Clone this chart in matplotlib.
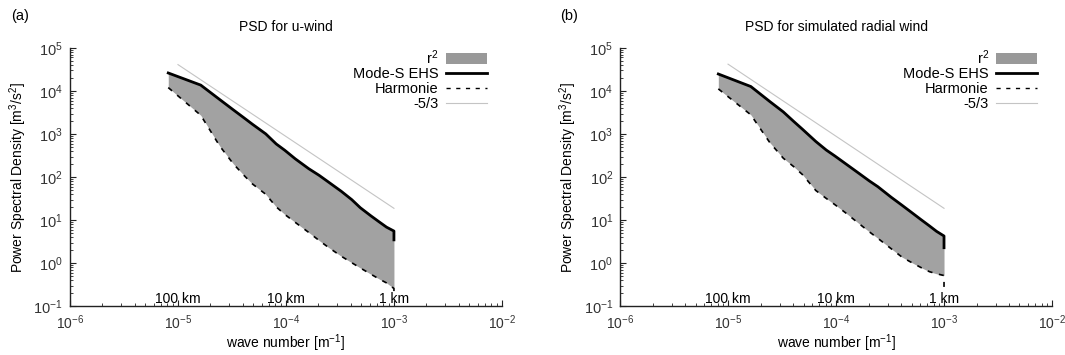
import matplotlib
matplotlib.use("Agg")
import matplotlib.pyplot as plt
import matplotlib.patches as patches
from matplotlib.lines import Line2D
from matplotlib.ticker import NullFormatter

plt.rcParams['font.family'] = ['Liberation Sans', 'DejaVu Sans']
plt.rcParams['mathtext.default'] = 'regular'
plt.rcParams['font.size'] = 10

# wave numbers (k = n * k0), last point repeated for the drop at 1 km
wave_number = [8.13e-6, 1.626e-5, 2.44e-5, 3.25e-5, 4.07e-5, 4.88e-5, 6.5e-5,
               8.13e-5, 9.76e-5, 1.22e-4, 1.626e-4, 2.03e-4, 2.44e-4, 3.25e-4,
               4.07e-4, 4.88e-4, 6.1e-4, 7.32e-4, 8.54e-4, 1.0e-3, 1.0e-3]

# panel (a): u-wind
modes_u = [2.62e4, 1.37e4, 6310, 3660, 2400, 1700, 1010, 589, 420, 266, 157,
           110, 79, 47, 30, 19.5, 12.7, 9.1, 6.9, 5.6, 3.5]
harmonie_u = [1.2e4, 2730, 525, 205, 111, 70, 40, 20.4, 13.6, 8.9, 5.2,
              3.38, 2.4, 1.46, 1.03, 0.78, 0.56, 0.43, 0.35, 0.26, 0.2]

# panel (b): simulated radial wind
modes_r = [2.48e4, 1.27e4, 5680, 3270, 1950, 1300, 673, 425, 310, 207, 123,
           82, 60, 34, 22.4, 15.9, 10.4, 7.4, 5.5, 4.3, 2.3]
harmonie_r = [1.12e4, 2800, 631, 275, 174, 115, 49, 32, 23, 15, 8.4,
              5.4, 3.8, 2.17, 1.4, 1.08, 0.80, 0.64, 0.57, 0.52, 0.23]

# -5/3 reference line end points
slope_k = [1e-5, 1e-3]
slope_u = [4.1e4, 18.9]
slope_r = [4.2e4, 18.9]

scale_k = [1e-5, 1e-4, 1e-3]
scale_labels = ['100 km', '10 km', '1 km']

FILL = '#a2a2a2'
REF = '#c4c4c4'


def draw_panel(ax, title, modes, harmonie, slope_vals):
    ax.fill_between(wave_number, harmonie, modes, color=FILL, linewidth=0)
    ax.plot(wave_number, modes, color='black', lw=2.0)
    ax.plot(wave_number, harmonie, color='black', lw=1.2, dashes=(3, 4))
    ax.plot(slope_k, slope_vals, color=REF, lw=0.8)

    ax.set_xscale('log')
    ax.set_yscale('log')
    ax.set_xlim(1e-6, 1e-2)
    ax.set_ylim(1e-1, 1e5)
    ax.xaxis.set_minor_formatter(NullFormatter())
    ax.yaxis.set_minor_formatter(NullFormatter())
    ax.set_title(title, fontsize=10, pad=12)
    ax.set_xlabel('wave number [m$^{-1}$]', labelpad=0, fontsize=10)
    ax.set_ylabel('Power Spectral Density [m$^3$/s$^2$]', labelpad=3)

    for s in ['top', 'right']:
        ax.spines[s].set_visible(False)
    for s in ['left', 'bottom']:
        ax.spines[s].set_linewidth(1.0)
        ax.spines[s].set_color('#222222')
    ax.tick_params(which='major', direction='in', length=4, width=0.8,
                   labelsize=10.5, colors='#222222', labelcolor='#333333')
    ax.tick_params(which='minor', direction='in', length=2, width=0.6,
                   colors='#222222', labelbottom=False, labelleft=False)
    ax.tick_params(axis='x', which='major', pad=5, labelsize=10)
    ax.tick_params(axis='y', which='major', pad=5)

    for k, lab in zip(scale_k, scale_labels):
        ax.text(k, 0.1, lab, ha='center', va='bottom', fontsize=10)

    handles = [
        patches.Patch(facecolor='#999999', edgecolor='none', label='r$^2$'),
        Line2D([], [], color='black', lw=2.0, label='Mode-S EHS'),
        Line2D([], [], color='black', lw=1.0, dashes=(3, 4), label='Harmonie'),
        Line2D([], [], color=REF, lw=0.8, label='-5/3'),
    ]
    ax.legend(handles=handles, loc='upper right', bbox_to_anchor=(0.965, 1.0),
              frameon=False, markerfirst=False, handlelength=2.8,
              handletextpad=0.5, labelspacing=0.05, borderaxespad=0,
              borderpad=0, fontsize=10.5)


fig = plt.figure(figsize=(10.65, 3.55), dpi=100)
ax1 = fig.add_axes([0.0657, 0.137, 0.4056, 0.728])
ax2 = fig.add_axes([0.5822, 0.137, 0.4056, 0.728])

draw_panel(ax1, 'PSD for u-wind', modes_u, harmonie_u, slope_u)
draw_panel(ax2, 'PSD for simulated radial wind', modes_r, harmonie_r, slope_r)

fig.text(0.010, 0.945, '(a)', fontsize=10.5)
fig.text(0.526, 0.945, '(b)', fontsize=10.5)

fig.savefig('out.png', dpi=100)
